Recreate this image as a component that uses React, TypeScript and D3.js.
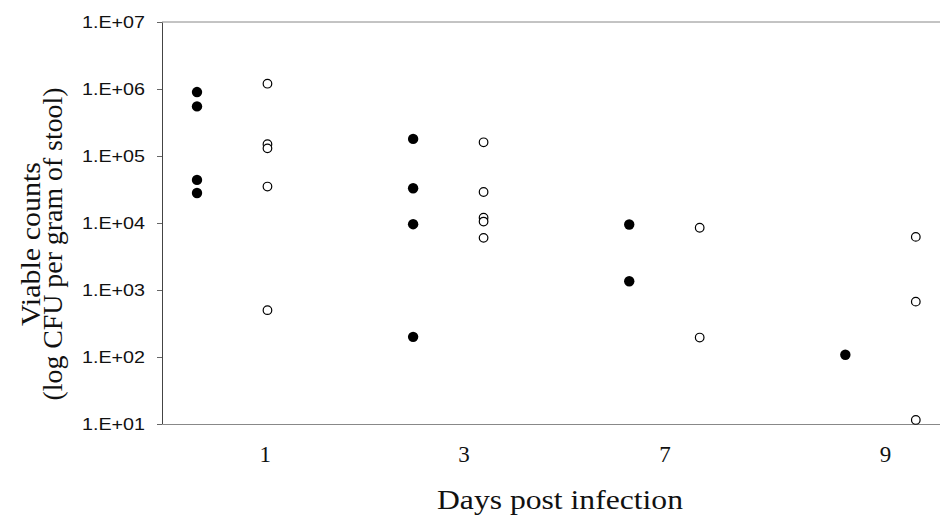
import React, { useEffect, useRef } from 'react';
import * as d3 from 'd3';

// day groups shown on the x axis
const days = ['1', '3', '7', '9'];
// where each day label sits, in group units (0 = first group)
const dayLabelPos = [0.15, 1.07, 2.0, 3.02];

// filled circles, one list per day
const filledCounts = [
  [9.0e5, 5.5e5, 4.4e4, 2.8e4],
  [1.8e5, 3.3e4, 9.6e3, 2.0e2],
  [9.5e3, 1.35e3],
  [1.08e2],
];

// open circles, one list per day
const openCounts = [
  [1.2e6, 1.5e5, 1.3e5, 3.5e4, 5.0e2],
  [1.6e5, 2.9e4, 1.2e4, 1.05e4, 6.0e3],
  [8.5e3, 1.95e2],
  [6.2e3, 6.7e2, 1.15e1],
];

const yTicks = [1e1, 1e2, 1e3, 1e4, 1e5, 1e6, 1e7];

const W = 940;
const H = 517;

const ViableCountsChart = () => {
  const svgRef = useRef<SVGSVGElement>(null);

  useEffect(() => {
    const svg = d3.select(svgRef.current);
    svg.selectAll('*').remove();

    const left = 162, right = 940, top = 22, bottom = 424;
    const serif = '"Liberation Serif", "Times New Roman", serif';
    const sans = '"Liberation Sans", Arial, sans-serif';

    const x = d3.scaleLinear().domain([-0.325, 3.275]).range([left, right]);
    const y = d3.scaleLog().domain([1e1, 1e7]).range([bottom, top]);
    const offset = 0.163;

    svg.append('rect').attr('width', W).attr('height', H).attr('fill', '#fff');

    // top frame line
    svg.append('line')
      .attr('x1', left).attr('x2', right)
      .attr('y1', top).attr('y2', top)
      .attr('stroke', '#888').attr('stroke-width', 1);

    // y axis
    const yAxis = svg.append('g')
      .attr('transform', `translate(${left},0)`)
      .call(d3.axisLeft(y)
        .tickValues(yTicks)
        .tickFormat(d => `1.E+0${Math.round(Math.log10(+d))}`)
        .tickSize(5)
        .tickSizeOuter(0)
        .tickPadding(12));
    yAxis.select('.domain').attr('stroke', '#444');
    yAxis.selectAll('.tick line').attr('stroke', '#666');
    yAxis.selectAll('text')
      .attr('fill', '#111')
      .attr('font-family', sans)
      .attr('font-size', 16)
      .attr('textLength', 63)
      .attr('lengthAdjust', 'spacingAndGlyphs');

    // x axis
    const xAxis = svg.append('g')
      .attr('transform', `translate(0,${bottom})`)
      .call(d3.axisBottom(x)
        .tickValues(dayLabelPos)
        .tickFormat((_, i) => days[i])
        .tickSize(0)
        .tickSizeOuter(0));
    xAxis.select('.domain').attr('stroke', '#888');
    xAxis.selectAll('text')
      .attr('y', 38)
      .attr('dy', 0)
      .attr('fill', '#111')
      .attr('font-family', serif)
      .attr('font-size', 23);

    // points
    const filledPts = filledCounts.flatMap((vals, i) => vals.map(v => ({ i, v })));
    const openPts = openCounts.flatMap((vals, i) => vals.map(v => ({ i, v })));

    svg.append('g').selectAll('circle')
      .data(filledPts)
      .enter().append('circle')
      .attr('cx', d => x(d.i - offset))
      .attr('cy', d => y(d.v))
      .attr('r', 5.2)
      .attr('fill', '#000');

    svg.append('g').selectAll('circle')
      .data(openPts)
      .enter().append('circle')
      .attr('cx', d => x(d.i + offset))
      .attr('cy', d => y(d.v))
      .attr('r', 4.3)
      .attr('fill', '#fff')
      .attr('stroke', '#000')
      .attr('stroke-width', 1.2);

    // y title
    const yTitle = svg.append('text')
      .attr('transform', `translate(40,${(top + bottom) / 2 + 21}) rotate(-90)`)
      .attr('text-anchor', 'middle')
      .attr('font-family', serif)
      .attr('font-size', 27)
      .attr('fill', '#111');
    yTitle.append('tspan').attr('x', 0).attr('y', 0)
      .attr('textLength', 164).attr('lengthAdjust', 'spacingAndGlyphs')
      .text('Viable counts');
    yTitle.append('tspan').attr('x', 0).attr('y', 22)
      .attr('textLength', 313).attr('lengthAdjust', 'spacingAndGlyphs')
      .text('(log CFU per gram of stool)');

    // x title
    svg.append('text')
      .attr('x', 560)
      .attr('y', 509)
      .attr('text-anchor', 'middle')
      .attr('font-family', serif)
      .attr('font-size', 27)
      .attr('textLength', 246)
      .attr('lengthAdjust', 'spacingAndGlyphs')
      .attr('fill', '#111')
      .text('Days post infection');
  }, []);

  return (
    <svg
      ref={svgRef}
      width={W}
      height={H}
      style={{ position: 'absolute', left: 0, top: 0, display: 'block' }}
    />
  );
};

export default function App() {
  return <ViableCountsChart />;
}
